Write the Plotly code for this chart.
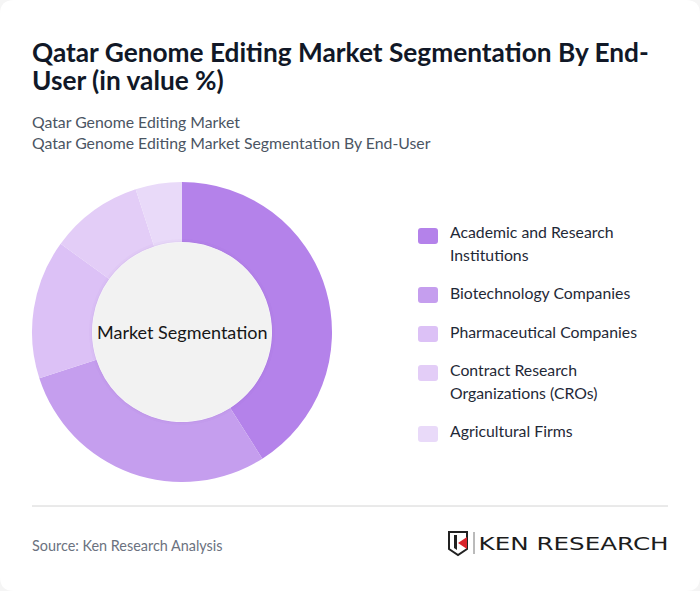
import plotly.graph_objects as go

W = 700
H = 591

segments = ["Academic and Research Institutions", "Biotechnology Companies",
            "Pharmaceutical Companies", "Contract Research Organizations (CROs)",
            "Agricultural Firms"]
shares = [41, 29, 15, 10, 5]
colors = ["#b482ea", "#c59eee", "#dcc1f6", "#e3cdf7", "#e9daf9"]
legend_lines = [["Academic and Research", "Institutions"],
                ["Biotechnology Companies"],
                ["Pharmaceutical Companies"],
                ["Contract Research", "Organizations (CROs)"],
                ["Agricultural Firms"]]
legend_swatch_y = [236, 295, 334, 373, 434]
legend_text_y = [[232, 254], [292], [331.5], [369, 392], [430]]

title_lines = ["Qatar Genome Editing Market Segmentation By End-", "User (in value %)"]
subtitle_lines = ["Qatar Genome Editing Market", "Qatar Genome Editing Market Segmentation By End-User"]
source_text = "Source: Ken Research Analysis"
center_text = "Market Segmentation"
logo_text = "KEN RESEARCH"


def px(x):
    return x / W


def py(y):
    return 1 - y / H


def label(x, y, text, size, color, anchor="left", weight=400, family="Lato"):
    fig.add_annotation(x=px(x), y=py(y), xref="paper", yref="paper", text=text,
                       showarrow=False, xanchor=anchor, yanchor="middle",
                       borderpad=0, font=dict(family=family, size=size, color=color, weight=weight))


def rounded_box(x0, y0, x1, y1, r):
    xa, xb, ya, yb = px(x0), px(x1), py(y0), py(y1)
    rx, ry = r / W, r / H
    return (f"M {xa + rx} {ya} L {xb - rx} {ya} Q {xb} {ya} {xb} {ya - ry} "
            f"L {xb} {yb + ry} Q {xb} {yb} {xb - rx} {yb} L {xa + rx} {yb} "
            f"Q {xa} {yb} {xa} {yb + ry} L {xa} {ya - ry} Q {xa} {ya} {xa + rx} {ya} Z")


def poly(points):
    return "M " + " L ".join(f"{px(x)} {py(y)}" for x, y in points) + " Z"


fig = go.Figure()
fig.add_trace(go.Pie(labels=segments, values=shares, hole=0.6, sort=False,
                     direction="clockwise", rotation=0, textinfo="none",
                     hoverinfo="label+percent", showlegend=False,
                     marker=dict(colors=colors, line=dict(width=0)),
                     domain=dict(x=[px(32), px(332)], y=[py(482), py(182)])))

# card behind everything
fig.add_shape(type="path", path=rounded_box(0, 0, 700, 591, 14), xref="paper", yref="paper",
              fillcolor="white", line_width=0, layer="below")

# soft shadow and the grey disc in the hole
for r, op in [(93, 0.02), (91, 0.03)]:
    fig.add_shape(type="circle", xref="paper", yref="paper", x0=px(182 - r), x1=px(182 + r),
                  y0=py(332 + r), y1=py(332 - r), fillcolor=f"rgba(90,60,130,{op})", line_width=0)
fig.add_shape(type="circle", xref="paper", yref="paper", x0=px(92.5), x1=px(271.5),
              y0=py(421.5), y1=py(242.5), fillcolor="#f2f2f2", line_width=0)
label(182, 332, center_text, 18, "#171717", anchor="center")

for i, line in enumerate(title_lines):
    label(31, 52 + i * 28.5, line, 26.25, "#111827", weight=700)
for i, line in enumerate(subtitle_lines):
    label(31, 121 + i * 21.5, line, 15.8, "#4b5563")

for color, sw_y, lines, ys in zip(colors, legend_swatch_y, legend_lines, legend_text_y):
    fig.add_shape(type="path", path=rounded_box(418, sw_y - 8, 438, sw_y + 8, 3), xref="paper",
                  yref="paper", fillcolor=color, line_width=0)
    for line, y in zip(lines, ys):
        label(449, y, line, 15.8, "#1f2937")

# footer
fig.add_shape(type="line", xref="paper", yref="paper", x0=px(32), x1=px(668), y0=py(506), y1=py(506),
              line=dict(color="#d4d4d4", width=1))
label(31, 545, source_text, 14.4, "#6b7280")

# logo
fig.add_shape(type="path", path=poly([(449, 532), (467, 532), (467, 549), (458, 555), (449, 549)]),
              xref="paper", yref="paper", fillcolor="white", line=dict(color="#222222", width=2))
fig.add_shape(type="path", path=poly([(454, 535), (457, 535), (457, 550), (454, 548)]),
              xref="paper", yref="paper", fillcolor="#222222", line_width=0)
fig.add_shape(type="path", path=poly([(458, 543), (467, 537), (467, 549)]),
              xref="paper", yref="paper", fillcolor="#d8232a", line_width=0)
fig.add_shape(type="line", xref="paper", yref="paper", x0=px(474), x1=px(474), y0=py(554), y1=py(532),
              line=dict(color="#777777", width=1))
label(573, 543, logo_text, 18, "#1c1c1c", anchor="center", family="DejaVu Sans")

fig.update_layout(width=W, height=H, margin=dict(l=0, r=0, t=0, b=0),
                  paper_bgcolor="#f5f5f5", plot_bgcolor="white", showlegend=False)

# body margin off, and stretch the logo wordmark to its wide letterforms
post = """
document.body.style.margin='0';
document.documentElement.style.overflow='hidden';
document.querySelectorAll('.annotation-text').forEach(function(t){
  if(t.textContent==='KEN RESEARCH'){
    t.setAttribute('textLength','190');
    t.setAttribute('lengthAdjust','spacingAndGlyphs');
  }
});
"""
fig.write_html("out.html", config=dict(displayModeBar=False), post_script=post)
